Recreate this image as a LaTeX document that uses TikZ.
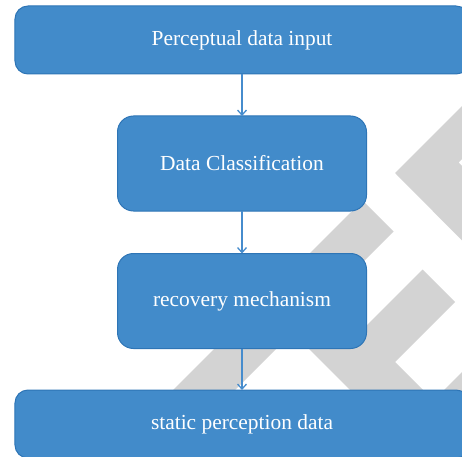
\documentclass[tikz,border=0pt]{standalone}
\usepackage{fontspec}
\setmainfont{Liberation Serif}
\usetikzlibrary{arrows.meta}

\definecolor{boxfill}{RGB}{66,139,202}
\definecolor{boxline}{RGB}{46,117,182}
\definecolor{arrowblue}{RGB}{70,140,205}
\definecolor{markgray}{RGB}{211,211,211}

\tikzset{
  flowbox/.style={draw=boxline, line width=1bp, fill=boxfill, text=white,
    inner sep=0pt, outer sep=0pt, font=\fontsize{21.5}{25}\selectfont,
    rounded corners=#1},
  widebox/.style={flowbox=13bp, minimum width=454bp, minimum height=68bp},
  narrowbox/.style={flowbox=16bp, minimum width=249bp, minimum height=95bp},
  flowarrow/.style={draw=arrowblue, line width=1.3bp,
    -{Straight Barb[length=5bp,width=9bp]}},
  wmark/.style={fill=markgray, draw=none},
}

\begin{document}
\begin{tikzpicture}[x=1bp,y=-1bp]
  \useasboundingbox (0,0) rectangle (462,457);
  \clip (0,0) rectangle (462,457);

  % background logo: diagonal bands
  \fill[wmark] (362.5,200.5) -- (393.5,231.5) -- (112.5,512.5) -- (81.5,481.5) -- cycle;
  \fill[wmark] (296.5,263.5) -- (516.5,483.5) -- (480,520) -- (260,300) -- cycle;
  \fill[wmark] (422.5,269.5) -- (455,302) -- (373.5,383.5) -- (341,351) -- cycle;
  \fill[wmark] (400,434) -- (540,294) -- (580,334) -- (440,474) -- cycle;
  \fill[wmark] (395,173) -- (520,48) -- (560,61) -- (458.5,162.5)
               -- (560,264) -- (540,319) -- cycle;

  % flow boxes
  \node[widebox]   (input)    at (242,40)    {Perceptual data input};
  \node[narrowbox] (classify) at (242,163.5) {Data Classification};
  \node[narrowbox] (recover)  at (242,301)   {recovery mechanism};
  \node[widebox]   (static)   at (242,424)   {static perception data};

  % connectors
  \draw[flowarrow] (input) -- (classify);
  \draw[flowarrow] (classify) -- (recover);
  \draw[flowarrow] (recover) -- (static);
\end{tikzpicture}
\end{document}
